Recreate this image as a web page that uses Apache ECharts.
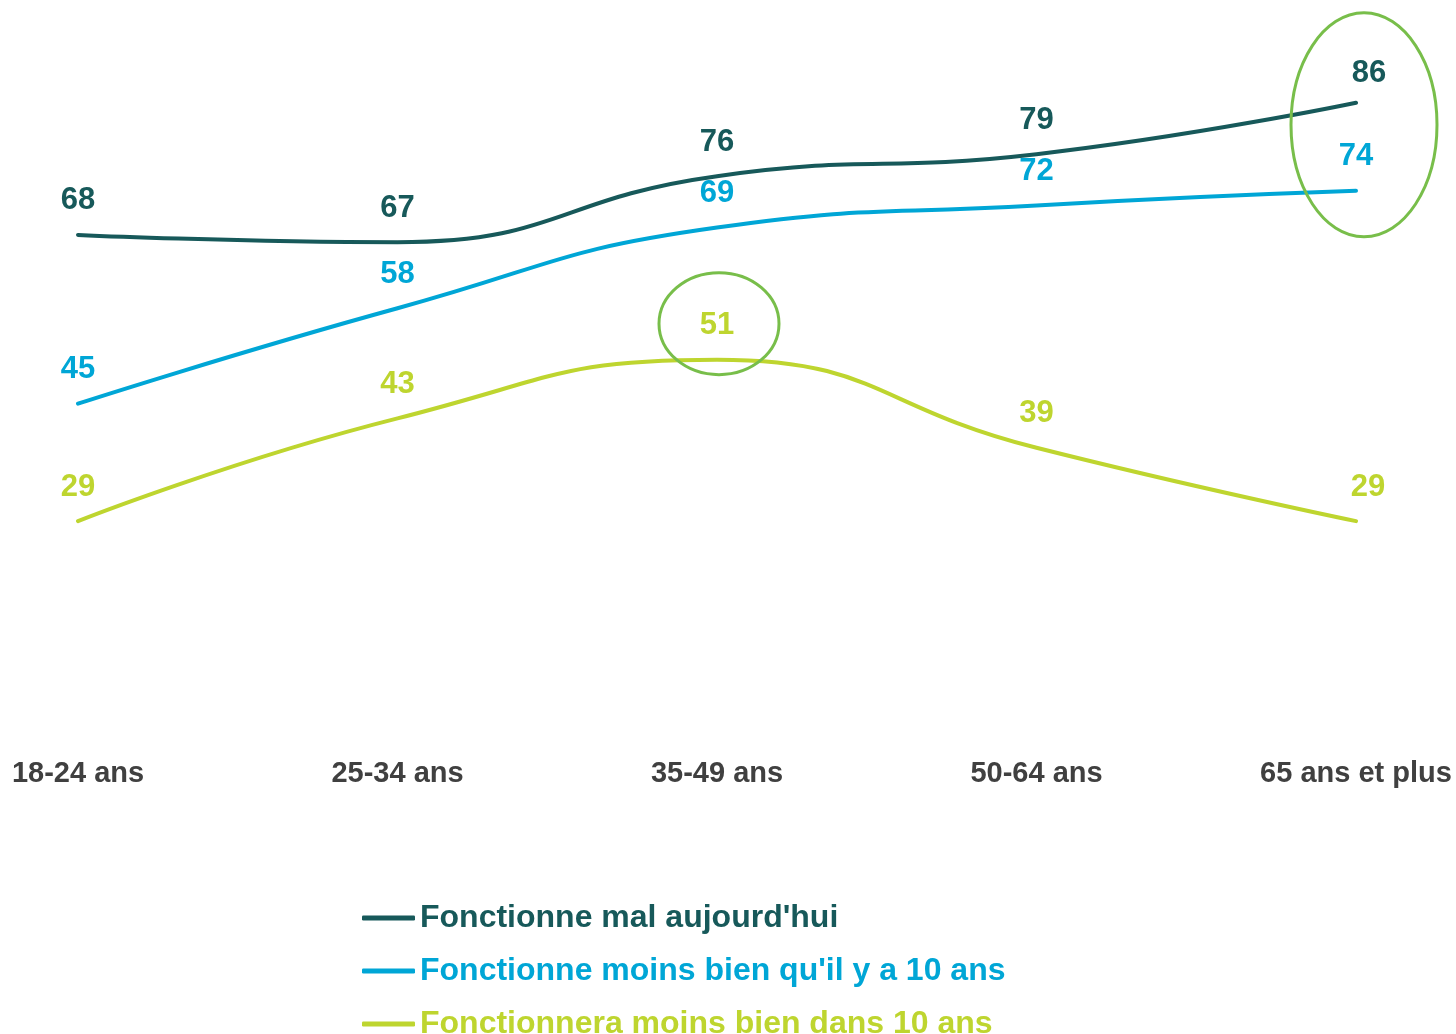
<!DOCTYPE html>
<html>
<head>
<meta charset="utf-8">
<script src="https://cdn.jsdelivr.net/npm/echarts@6/dist/echarts.min.js"></script>
<style>
html,body{margin:0;padding:0;background:#fff;}
#chart{width:1456px;height:1034px;}
</style>
</head>
<body>
<div id="chart"></div>
<script>
const categories = ['18-24 ans', '25-34 ans', '35-49 ans', '50-64 ans', '65 ans et plus'];
const seriesNames = ["Fonctionne mal aujourd'hui", "Fonctionne moins bien qu'il y a 10 ans", "Fonctionnera moins bien dans 10 ans"];
const malAujourdhui = [68, 67, 76, 79, 86];
const moinsBienQu10Ans = [45, 58, 69, 72, 74];
const moinsBienDans10Ans = [29, 43, 51, 39, 29];
const colors = ['#17595A', '#00A6D6', '#BED52F'];
const ellipseColor = '#78BE4A';

const chart = echarts.init(document.getElementById('chart'));
const FONT = '"Liberation Sans", Arial, sans-serif';

function mkData(arr, lastOffset) {
  return arr.map((v, i) => {
    if (i === arr.length - 1 && lastOffset) {
      return { value: v, label: { offset: lastOffset } };
    }
    return v;
  });
}

function mkSeries(name, arr, color, lastOffset) {
  return {
    name: name,
    type: 'line',
    data: mkData(arr, lastOffset),
    smooth: 0.5,
    showSymbol: true,
    symbol: 'circle',
    symbolSize: 1,
    itemStyle: { color: 'rgba(0,0,0,0)', borderWidth: 0 },
    lineStyle: { color: color, width: 4, cap: 'round' },
    label: {
      show: true,
      position: 'top',
      distance: 18,
      color: color,
      fontFamily: FONT,
      fontWeight: 'bold',
      fontSize: 31
    },
    emphasis: { disabled: true }
  };
}

const option = {
  animation: false,
  backgroundColor: '#fff',
  grid: { left: 78, right: 100, top: -2, bottom: 300, containLabel: false },
  xAxis: {
    type: 'category',
    data: categories,
    boundaryGap: false,
    axisLine: { show: false },
    axisTick: { show: false },
    splitLine: { show: false },
    axisLabel: {
      margin: 25,
      color: '#404040',
      fontFamily: FONT,
      fontWeight: 'bold',
      fontSize: 29,
      showMinLabel: true,
      showMaxLabel: true,
      interval: 0
    }
  },
  yAxis: {
    type: 'value',
    min: 0,
    max: 100,
    show: false
  },
  legend: {
    orient: 'vertical',
    left: 362,
    top: 902,
    height: 300,
    padding: 0,
    itemWidth: 53,
    itemHeight: 5,
    itemGap: 21,
    icon: 'roundRect',
    textStyle: { fontFamily: FONT, fontWeight: 'bold', fontSize: 32, lineHeight: 32, padding: [0, 0, 0, 0] },
    data: seriesNames.map((n, i) => ({ name: n, textStyle: { color: colors[i] }, itemStyle: { color: colors[i], opacity: 1 } }))
  },
  series: [
    mkSeries(seriesNames[0], malAujourdhui, colors[0], [13, 5]),
    mkSeries(seriesNames[1], moinsBienQu10Ans, colors[1], null),
    mkSeries(seriesNames[2], moinsBienDans10Ans, colors[2], [12, 0])
  ]
};
chart.setOption(option);

// Annotation ellipses anchored to data points
const pTop = chart.convertToPixel({ seriesIndex: 0 }, [4, malAujourdhui[4]]);
const pMid = chart.convertToPixel({ seriesIndex: 1 }, [4, moinsBienQu10Ans[4]]);
const pPeak = chart.convertToPixel({ seriesIndex: 2 }, [2, moinsBienDans10Ans[2]]);
chart.setOption({
  graphic: [
    {
      type: 'ellipse',
      shape: { cx: pTop[0] + 8, cy: (pTop[1] + pMid[1]) / 2 - 22, rx: 73, ry: 112 },
      style: { fill: 'none', stroke: ellipseColor, lineWidth: 3 },
      z: 100
    },
    {
      type: 'ellipse',
      shape: { cx: pPeak[0] + 2, cy: pPeak[1] - 36, rx: 60, ry: 51 },
      style: { fill: 'none', stroke: ellipseColor, lineWidth: 3 },
      z: 100
    }
  ]
});
</script>
</body>
</html>
